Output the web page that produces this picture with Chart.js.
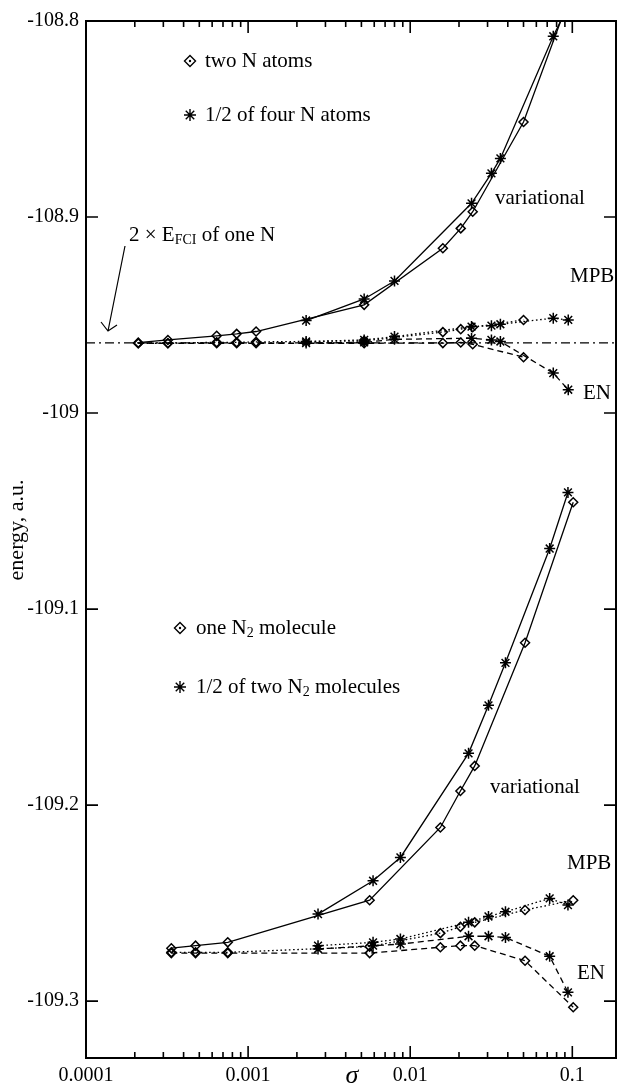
<!DOCTYPE html>
<html>
<head>
<meta charset="utf-8">
<script src="https://cdn.jsdelivr.net/npm/chart.js@4.4.1/dist/chart.umd.min.js"></script>
<style>
  body { margin: 0; background: #fff; }
  #chart { display: block; }
</style>
</head>
<body>
<canvas id="chart" width="623" height="1086"></canvas>
<script>
// two N atoms (diamonds)
const sigmaAtomDiamond = [0.00021, 0.00032, 0.00064, 0.00085, 0.00112, 0.0052, 0.0159, 0.0205, 0.0243, 0.050, 0.100]
const atomVarDiamond = [-108.9641, -108.9627, -108.9606, -108.9596, -108.9584, -108.9448, -108.9159, -108.9058, -108.8973, -108.8515, -108.784]
const atomMpbDiamond = [-108.9644, -108.9644, -108.9639, -108.9639, -108.9637, -108.9632, -108.9587, -108.9572, -108.9562, -108.9525]
const atomEnDiamond = [-108.9644, -108.9644, -108.9644, -108.9644, -108.9644, -108.9644, -108.9643, -108.9640, -108.9649, -108.9715]

// 1/2 of four N atoms (stars)
const sigmaAtomStar = [0.00228, 0.0052, 0.0080, 0.0239, 0.0317, 0.0360, 0.0763, 0.0944]
const atomVarStar = [-108.9528, -108.9418, -108.9326, -108.8930, -108.8777, -108.8701, -108.8078, -108.792]
const atomMpbStar = [-108.9635, -108.9627, -108.9610, -108.9559, -108.9554, -108.9547, -108.9516, -108.9525]
const atomEnStar = [-108.9643, -108.9639, -108.9624, -108.9618, -108.9627, -108.9635, -108.9796, -108.9881]

// one N2 molecule (diamonds)
const sigmaMolDiamond = [0.000336, 0.000474, 0.000749, 0.00562, 0.01535, 0.0204, 0.0250, 0.0511, 0.1013]
const molVarDiamond = [-109.2730, -109.2717, -109.2700, -109.2485, -109.2114, -109.1928, -109.1800, -109.1172, -109.0455]
const molMpbDiamond = [-109.2751, -109.2751, -109.2751, -109.2722, -109.2653, -109.2621, -109.2598, -109.2535, -109.2485]
const molEnDiamond = [-109.2755, -109.2755, -109.2755, -109.2755, -109.2725, -109.2717, -109.2717, -109.2794, -109.3031]

// 1/2 of two N2 molecules (stars)
const sigmaMolStar = [0.0027, 0.0059, 0.0087, 0.0229, 0.0304, 0.0387, 0.0725, 0.094]
const molVarStar = [-109.2556, -109.2386, -109.2267, -109.1736, -109.1491, -109.1274, -109.0691, -109.0405]
const molMpbStar = [-109.2717, -109.2700, -109.2683, -109.2598, -109.2568, -109.2544, -109.2476, -109.2510]
const molEnStar = [-109.2734, -109.2717, -109.2709, -109.2669, -109.2669, -109.2675, -109.2771, -109.2955]

// 2 x E_FCI of one N
const sigmaFci = [0.0001, 0.186]
const energyFci = [-108.9642, -108.9642]

const xTickValues = [0.0001, 0.001, 0.01, 0.1]
const yTickValues = [-108.8, -108.9, -109, -109.1, -109.2, -109.3]

const SERIF = '"Liberation Serif", "DejaVu Serif", serif'
Chart.defaults.font.family = SERIF
Chart.defaults.color = '#000'

const toPoints = (xs, ys) => ys.map((y, i) => ({ x: xs[i], y: y }))

const DASH = { var: [], mpb: [1.6, 2.6], en: [6, 4] }

const series = (label, xs, ys, marker, method) => ({
    label: label,
    data: toPoints(xs, ys),
    borderColor: '#000',
    borderWidth: 1.3,
    borderDash: DASH[method],
    backgroundColor: 'rgba(255,255,255,0)',
    pointStyle: marker == 'diamond' ? 'rectRot' : 'star',
    pointRadius: marker == 'diamond' ? 4.5 : 5.5,
    pointBorderWidth: 1.5,
    pointBorderColor: '#000',
    pointBackgroundColor: 'rgba(255,255,255,0)',
    tension: 0,
})

const datasets = [
    {
        label: 'FCI',
        data: toPoints(sigmaFci, energyFci),
        borderColor: '#000',
        borderWidth: 1.2,
        borderDash: [9, 4, 2, 4],
        pointRadius: 0,
    },
    series('two N atoms variational', sigmaAtomDiamond, atomVarDiamond, 'diamond', 'var'),
    series('two N atoms MPB', sigmaAtomDiamond, atomMpbDiamond, 'diamond', 'mpb'),
    series('two N atoms EN', sigmaAtomDiamond, atomEnDiamond, 'diamond', 'en'),
    series('four N atoms variational', sigmaAtomStar, atomVarStar, 'star', 'var'),
    series('four N atoms MPB', sigmaAtomStar, atomMpbStar, 'star', 'mpb'),
    series('four N atoms EN', sigmaAtomStar, atomEnStar, 'star', 'en'),
    series('one N2 variational', sigmaMolDiamond, molVarDiamond, 'diamond', 'var'),
    series('one N2 MPB', sigmaMolDiamond, molMpbDiamond, 'diamond', 'mpb'),
    series('one N2 EN', sigmaMolDiamond, molEnDiamond, 'diamond', 'en'),
    series('two N2 variational', sigmaMolStar, molVarStar, 'star', 'var'),
    series('two N2 MPB', sigmaMolStar, molMpbStar, 'star', 'mpb'),
    series('two N2 EN', sigmaMolStar, molEnStar, 'star', 'en'),
]

const font = (size, style) => (style || '') + ' ' + size + 'px ' + SERIF

// text with subscripts, drawn piece by piece
const drawRich = (ctx, x, y, parts) => {
    for (let p of parts) {
        ctx.font = p.sub ? font(14) : font(21)
        ctx.fillText(p.t, x, y + (p.sub ? 5 : 0))
        x += ctx.measureText(p.t).width
    }
}

const drawDiamond = (ctx, x, y) => {
    ctx.beginPath()
    ctx.moveTo(x, y - 5.5); ctx.lineTo(x + 5.5, y); ctx.lineTo(x, y + 5.5); ctx.lineTo(x - 5.5, y); ctx.closePath()
    ctx.stroke()
    ctx.beginPath(); ctx.arc(x, y, 1.2, 0, Math.PI * 2); ctx.fill()
}

const drawStar = (ctx, x, y) => {
    ctx.beginPath()
    for (let k = 0; k < 4; k++) {
        const a = k * Math.PI / 4
        ctx.moveTo(x - 6 * Math.cos(a), y - 6 * Math.sin(a))
        ctx.lineTo(x + 6 * Math.cos(a), y + 6 * Math.sin(a))
    }
    ctx.stroke()
}

const frameTicks = {
    id: 'frameTicks',
    afterDraw(chart) {
        const ctx = chart.ctx
        const a = chart.chartArea
        const xs = chart.scales.x
        const ys = chart.scales.y
        ctx.save()
        ctx.strokeStyle = '#000'
        ctx.lineWidth = 1.6
        ctx.beginPath()
        for (let e = -4; e <= -1; e++) {
            for (let m = 1; m <= 9; m++) {
                const v = m * Math.pow(10, e)
                if (v < xs.min || v > xs.max) continue
                const px = xs.getPixelForValue(v)
                const len = m == 1 ? 12 : 6
                ctx.moveTo(px, a.bottom); ctx.lineTo(px, a.bottom - len)
                ctx.moveTo(px, a.top); ctx.lineTo(px, a.top + len)
            }
        }
        for (let v of yTickValues) {
            const py = ys.getPixelForValue(v)
            ctx.moveTo(a.left, py); ctx.lineTo(a.left + 12, py)
            ctx.moveTo(a.right, py); ctx.lineTo(a.right - 12, py)
        }
        ctx.stroke()
        ctx.lineWidth = 2
        ctx.strokeRect(a.left, a.top, a.right - a.left, a.bottom - a.top)
        ctx.restore()
    }
}

const annotations = {
    id: 'annotations',
    afterDraw(chart) {
        const ctx = chart.ctx
        ctx.save()
        ctx.fillStyle = '#000'
        ctx.strokeStyle = '#000'
        ctx.textBaseline = 'middle'
        ctx.textAlign = 'left'

        // legends
        ctx.lineWidth = 1.4
        drawDiamond(ctx, 190, 61)
        drawStar(ctx, 190, 115)
        drawRich(ctx, 205, 61, [{ t: 'two N atoms' }])
        drawRich(ctx, 205, 115, [{ t: '1/2 of four N atoms' }])
        drawDiamond(ctx, 180, 628)
        drawStar(ctx, 180, 687)
        drawRich(ctx, 196, 628, [{ t: 'one N' }, { t: '2', sub: true }, { t: ' molecule' }])
        drawRich(ctx, 196, 687, [{ t: '1/2 of two N' }, { t: '2', sub: true }, { t: ' molecules' }])

        // method labels
        drawRich(ctx, 495, 198, [{ t: 'variational' }])
        drawRich(ctx, 570, 276, [{ t: 'MPB' }])
        drawRich(ctx, 583, 393, [{ t: 'EN' }])
        drawRich(ctx, 490, 787, [{ t: 'variational' }])
        drawRich(ctx, 567, 863, [{ t: 'MPB' }])
        drawRich(ctx, 577, 973, [{ t: 'EN' }])

        // FCI note with arrow
        drawRich(ctx, 129, 235, [{ t: '2 \u00d7 E' }, { t: 'FCI', sub: true }, { t: ' of one N' }])
        ctx.lineWidth = 1.2
        ctx.beginPath()
        ctx.moveTo(125, 246); ctx.lineTo(108, 331)
        ctx.moveTo(101, 322); ctx.lineTo(108, 331); ctx.lineTo(117, 325)
        ctx.stroke()

        // axis titles
        ctx.textAlign = 'center'
        ctx.font = font(26, 'italic')
        ctx.fillText('\u03c3', 352, 1076)
        ctx.translate(17, 530)
        ctx.rotate(-Math.PI / 2)
        ctx.font = font(22)
        ctx.fillText('energy, a.u.', 0, 0)
        ctx.restore()
    }
}

const config = {
    type: 'line',
    data: { datasets: datasets },
    options: {
        responsive: false,
        animation: false,
        layout: { padding: { top: 21, right: 5, left: 0, bottom: 0 } },
        plugins: {
            legend: { display: false },
            tooltip: { enabled: false },
        },
        scales: {
            x: {
                type: 'logarithmic',
                min: 0.0001,
                max: 0.186,
                grid: { display: false, drawTicks: false },
                border: { display: false },
                afterBuildTicks: (scale) => { scale.ticks = xTickValues.map(v => ({ value: v })) },
                afterFit: (scale) => { scale.height = 28 },
                ticks: {
                    autoSkip: false,
                    maxRotation: 0,
                    padding: 6,
                    font: { size: 20 },
                    callback: (v) => v.toFixed(Math.round(-Math.log10(v))),
                },
            },
            y: {
                type: 'linear',
                min: -109.329,
                max: -108.8,
                grid: { display: false, drawTicks: false },
                border: { display: false },
                afterBuildTicks: (scale) => { scale.ticks = yTickValues.map(v => ({ value: v })) },
                afterFit: (scale) => { scale.width = 86 },
                ticks: {
                    padding: 7,
                    font: { size: 20 },
                    callback: (v) => String(Math.round(v * 10) / 10),
                },
            },
        },
    },
    plugins: [frameTicks, annotations],
}

new Chart(document.getElementById('chart'), config)
</script>
</body>
</html>
